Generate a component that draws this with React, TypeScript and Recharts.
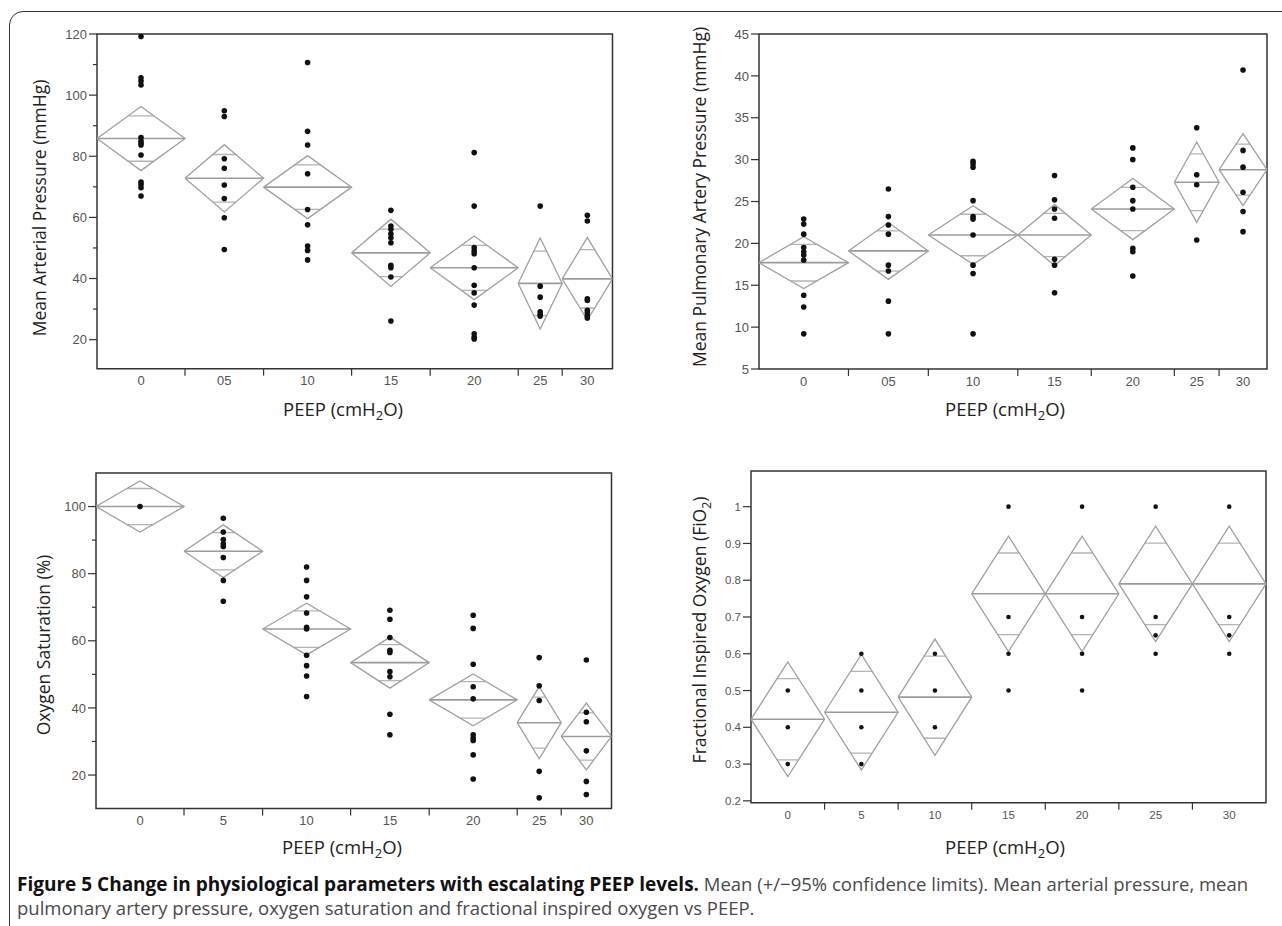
import React from 'react';
import { ComposedChart, Line, Scatter, XAxis, YAxis, ReferenceArea } from 'recharts';

// PEEP levels (cmH2O)
const peepLabelsPadded = ['0', '05', '10', '15', '20', '25', '30'];
const peepLabels = ['0', '5', '10', '15', '20', '25', '30'];

// relative group widths as drawn (JMP scales them by sample size)
const mapWidths = [14, 12.5, 14, 12.5, 14, 7, 8];
const mpapWidths = [14, 12.5, 14, 11.5, 13, 7, 7.5];
const spo2Widths = [14, 12.5, 14, 12.5, 14, 7, 8];
const fio2Widths = [1, 1, 1, 1, 1, 1, 1];

// mean arterial pressure
const mapMeans = [85.8, 72.8, 69.9, 48.4, 43.5, 38.4, 39.9];
const mapCi = [10.5, 11, 10.3, 11, 10.4, 14.9, 13.5];
const mapPoints = [
  [119.2, 105.7, 104.6, 103.3, 86.1, 85.0, 84.3, 83.7, 80.4, 71.6, 70.8, 69.7, 67.0],
  [94.9, 93.0, 79.2, 76.1, 70.6, 66.2, 59.9, 49.5],
  [110.7, 88.2, 83.7, 74.3, 62.6, 57.6, 50.6, 49.2, 46.1],
  [62.3, 57.2, 56.1, 54.6, 53.3, 51.7, 44.3, 43.5, 40.5, 26.1],
  [81.2, 63.7, 50.1, 49.0, 48.1, 43.5, 37.8, 35.3, 31.3, 21.9, 20.8, 20.2],
  [63.7, 37.5, 33.9, 29.1, 28.3, 27.7],
  [60.7, 58.8, 33.4, 32.8, 29.6, 28.7, 27.7, 27.1],
];

// mean pulmonary artery pressure
const mpapMeans = [17.7, 19.1, 21.0, 21.0, 24.1, 27.3, 28.8];
const mpapCi = [3.1, 3.4, 3.5, 3.65, 3.65, 4.8, 4.3];
const mpapPoints = [
  [22.9, 22.3, 21.1, 19.5, 19.0, 18.6, 18.0, 13.8, 12.4, 9.2],
  [26.5, 23.2, 22.2, 21.1, 17.4, 16.7, 13.1, 9.2],
  [29.8, 29.5, 29.1, 25.1, 23.2, 22.9, 21.0, 17.4, 16.4, 9.2],
  [28.1, 25.2, 24.1, 23.0, 18.1, 17.4, 14.1],
  [31.4, 30.0, 26.7, 25.1, 24.1, 19.4, 19.0, 16.1],
  [33.8, 28.2, 27.0, 20.4],
  [40.7, 31.1, 29.1, 26.1, 23.8, 21.4],
];

// oxygen saturation
const spo2Means = [100, 86.7, 63.5, 53.5, 42.4, 35.6, 31.5];
const spo2Ci = [7.6, 7.85, 7.7, 7.6, 7.7, 10.75, 9.95];
const spo2Points = [
  [100],
  [96.5, 92.4, 90.2, 88.9, 88.1, 84.8, 78.0, 71.8],
  [82.0, 78.0, 73.1, 68.3, 64.0, 63.5, 55.7, 52.6, 49.5, 43.4],
  [69.1, 66.4, 61.0, 57.2, 56.5, 50.8, 49.3, 38.1, 32.0],
  [67.6, 63.7, 53.0, 46.3, 42.7, 32.0, 31.0, 30.3, 26.0, 18.8],
  [55.0, 46.6, 42.2, 21.1, 13.2],
  [54.3, 38.7, 35.9, 27.2, 18.1, 14.2],
];

// fractional inspired oxygen
const fio2Means = [0.422, 0.441, 0.482, 0.763, 0.763, 0.79, 0.79];
const fio2Ci = [0.156, 0.157, 0.158, 0.157, 0.157, 0.157, 0.157];
const fio2Points = [
  [0.5, 0.4, 0.3],
  [0.6, 0.5, 0.4, 0.3],
  [0.6, 0.5, 0.4],
  [1.0, 0.7, 0.6, 0.5],
  [1.0, 0.7, 0.6, 0.5],
  [1.0, 0.7, 0.65, 0.6],
  [1.0, 0.7, 0.65, 0.6],
];

const TICK_FONT = '"Liberation Sans", Arial, sans-serif';
const TEXT_FONT = '"Open Sans", "Noto Sans", sans-serif';

function YTick(props: any) {
  const { x, y, payload, major, fmt, fontSize } = props;
  const isMajor = major.includes(payload.value);
  const len = isMajor ? 8 : 4;
  return (
    <g>
      <line x1={x - len} x2={x} y1={y} y2={y} stroke="#333" strokeWidth={1.2} />
      {isMajor && (
        <text x={x - len - 2} y={y} dy="0.36em" textAnchor="end" fontSize={fontSize} fill="#555" fontFamily={TICK_FONT}>
          {fmt(payload.value)}
        </text>
      )}
    </g>
  );
}

function XTick(props: any) {
  const { x, y, payload, labelOf, fontSize } = props;
  const label = labelOf.get(payload.value);
  if (label == null) {
    return <line x1={x} x2={x} y1={y} y2={y + 7} stroke="#333" strokeWidth={1.2} />;
  }
  return (
    <text x={x} y={y + 12} dy="0.36em" textAnchor="middle" fontSize={fontSize} fill="#555" fontFamily={TICK_FONT}>
      {label}
    </text>
  );
}

interface PanelProps {
  left: number;
  top: number;
  plotW: number;
  plotH: number;
  widths: number[];
  labels: string[];
  means: number[];
  ci: number[];
  points: number[][];
  yDomain: [number, number];
  yMajor: number[];
  yMinor: number[];
  fmt?: (v: number) => string;
  fontSize?: number;
  dotR?: number;
}

function DiamondPanel({
  left, top, plotW, plotH, widths, labels, means, ci, points,
  yDomain, yMajor, yMinor, fmt = (v) => String(v), fontSize = 13, dotR = 2.8,
}: PanelProps) {
  const starts: number[] = [];
  let acc = 0;
  widths.forEach((w) => {
    starts.push(acc);
    acc += w;
  });
  const total = acc;
  const centers = widths.map((w, i) => starts[i] + w / 2);
  const bounds = starts.slice(1);
  const labelOf = new Map<number, string>(centers.map((c, i) => [c, labels[i]]));

  const diamonds: { x: number; y: number | null }[] = [];
  const meanLines: { x: number; y: number | null }[] = [];
  const marks: { x: number; y: number | null }[] = [];
  const dots: { x: number; y: number }[] = [];

  widths.forEach((w, i) => {
    const x0 = starts[i];
    const x1 = x0 + w;
    const xc = centers[i];
    const m = means[i];
    const h = ci[i];
    diamonds.push(
      { x: x0, y: m }, { x: xc, y: m + h }, { x: x1, y: m }, { x: xc, y: m - h }, { x: x0, y: m }, { x: x1, y: null },
    );
    meanLines.push({ x: x0, y: m }, { x: x1, y: m }, { x: x1, y: null });
    // overlap marks at mean +/- ci/sqrt(2), drawn as chords of the diamond
    const d = h / Math.SQRT2;
    const hw = (1 - 1 / Math.SQRT2) * w / 2;
    marks.push(
      { x: xc - hw, y: m + d }, { x: xc + hw, y: m + d }, { x: xc, y: null },
      { x: xc - hw, y: m - d }, { x: xc + hw, y: m - d }, { x: xc, y: null },
    );
    points[i].forEach((v) => dots.push({ x: xc, y: v }));
  });

  const yAxisW = 50;
  const margin = { top: 12, right: 12, bottom: 0, left: 0 };
  const xAxisH = 30;

  return (
    <div style={{ position: 'absolute', left: left - yAxisW, top: top - margin.top }}>
      <ComposedChart width={yAxisW + plotW + margin.right} height={margin.top + plotH + xAxisH} margin={margin}>
        <XAxis
          type="number"
          dataKey="x"
          domain={[0, total]}
          ticks={[...bounds, ...centers]}
          interval={0}
          tick={(p: any) => <XTick {...p} labelOf={labelOf} fontSize={fontSize} />}
          tickLine={false}
          axisLine={false}
          tickSize={0}
          tickMargin={0}
          height={xAxisH}
          allowDataOverflow
        />
        <YAxis
          type="number"
          dataKey="y"
          domain={yDomain}
          ticks={[...yMajor, ...yMinor]}
          interval={0}
          tick={(p: any) => <YTick {...p} major={yMajor} fmt={fmt} fontSize={fontSize} />}
          tickLine={false}
          axisLine={false}
          tickSize={0}
          tickMargin={0}
          width={yAxisW}
          allowDataOverflow
        />
        <ReferenceArea x1={0} x2={total} y1={yDomain[0]} y2={yDomain[1]} fill="none" stroke="#333" strokeWidth={1.5} fillOpacity={0} />
        <Line data={marks} dataKey="y" stroke="#b4b4b4" strokeWidth={1.3} dot={false} activeDot={false} isAnimationActive={false} />
        <Line data={meanLines} dataKey="y" stroke="#9c9c9c" strokeWidth={1.6} dot={false} activeDot={false} isAnimationActive={false} />
        <Line data={diamonds} dataKey="y" stroke="#a0a0a0" strokeWidth={1.3} dot={false} activeDot={false} isAnimationActive={false} />
        <Scatter
          data={dots}
          isAnimationActive={false}
          shape={(p: any) => <circle cx={p.cx} cy={p.cy} r={dotR} fill="#111" />}
        />
      </ComposedChart>
    </div>
  );
}

function YTitle({ x, y, children }: { x: number; y: number; children: React.ReactNode }) {
  return (
    <div
      style={{
        position: 'absolute', left: x, top: y, transform: 'translate(-50%, -50%) rotate(-90deg)',
        whiteSpace: 'nowrap', fontFamily: TEXT_FONT, fontSize: 17.5, color: '#222',
      }}
    >
      {children}
    </div>
  );
}

function XTitle({ x, y }: { x: number; y: number }) {
  return (
    <div
      style={{
        position: 'absolute', left: x, top: y, transform: 'translate(-50%, -50%)',
        whiteSpace: 'nowrap', fontFamily: TEXT_FONT, fontSize: 18.5, color: '#222',
      }}
    >
      PEEP (cmH<sub style={{ fontSize: '0.7em' }}>2</sub>O)
    </div>
  );
}

export default function App() {
  return (
    <div style={{ position: 'absolute', left: 0, top: 0, width: 1282, height: 926, overflow: 'hidden', background: '#fff' }}>
      <div
        style={{
          position: 'absolute', left: 9, top: 11, width: 1400, height: 1000,
          border: '1.5px solid #333', borderTopLeftRadius: 14,
        }}
      />

      <DiamondPanel
        left={96.7} top={34.3} plotW={515.5} plotH={334.7}
        widths={mapWidths} labels={peepLabelsPadded}
        means={mapMeans} ci={mapCi} points={mapPoints}
        yDomain={[10.5, 120]} yMajor={[20, 40, 60, 80, 100, 120]} yMinor={[30, 50, 70, 90, 110]}
      />
      <DiamondPanel
        left={758.7} top={34.3} plotW={508} plotH={335}
        widths={mpapWidths} labels={peepLabelsPadded}
        means={mpapMeans} ci={mpapCi} points={mpapPoints}
        yDomain={[5, 45]} yMajor={[5, 10, 15, 20, 25, 30, 35, 40, 45]} yMinor={[]}
      />
      <DiamondPanel
        left={95.5} top={472.7} plotW={515.5} plotH={335.6}
        widths={spo2Widths} labels={peepLabels}
        means={spo2Means} ci={spo2Ci} points={spo2Points}
        yDomain={[10, 110]} yMajor={[20, 40, 60, 80, 100]} yMinor={[30, 50, 70, 90]}
      />
      <DiamondPanel
        left={750.5} top={471} plotW={515} plotH={331.7}
        widths={fio2Widths} labels={peepLabels}
        means={fio2Means} ci={fio2Ci} points={fio2Points}
        yDomain={[0.195, 1.097]} yMajor={[0.2, 0.3, 0.4, 0.5, 0.6, 0.7, 0.8, 0.9, 1]} yMinor={[]}
        fontSize={11.5} dotR={2.3}
      />

      <YTitle x={39} y={208}>Mean Arterial Pressure (mmHg)</YTitle>
      <YTitle x={699} y={197}>Mean Pulmonary Artery Pressure (mmHg)</YTitle>
      <YTitle x={43} y={645}>Oxygen Saturation (%)</YTitle>
      <YTitle x={701} y={630}>
        Fractional Inspired Oxygen (FiO<sub style={{ fontSize: '0.7em' }}>2</sub>)
      </YTitle>

      <XTitle x={343} y={410} />
      <XTitle x={1005} y={410} />
      <XTitle x={342} y={848} />
      <XTitle x={1005} y={848} />

      <div
        style={{
          position: 'absolute', left: 17, top: 872, fontFamily: TEXT_FONT, fontSize: 18.5,
          lineHeight: '24px', color: '#4a4a4a', whiteSpace: 'nowrap',
        }}
      >
        <b style={{ color: '#111', fontSize: 19 }}>
          Figure 5 Change in physiological parameters with escalating PEEP levels.
        </b>
        {' '}Mean (+/−95% confidence limits). Mean arterial pressure, mean
        <br />
        pulmonary artery pressure, oxygen saturation and fractional inspired oxygen vs PEEP.
      </div>
    </div>
  );
}
